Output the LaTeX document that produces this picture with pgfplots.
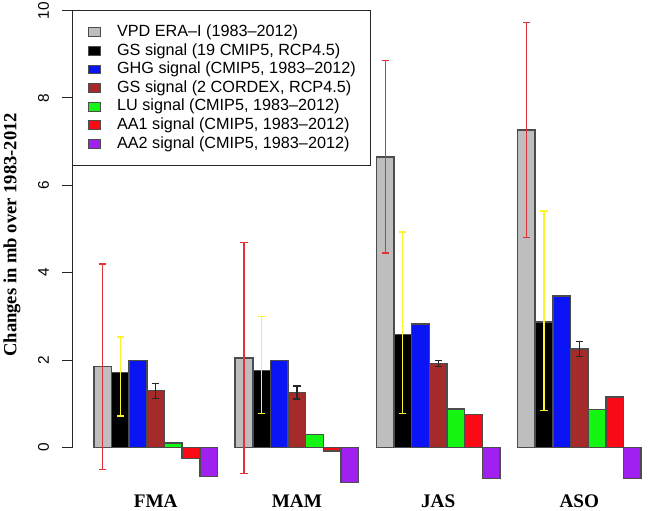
\documentclass[border=0pt]{standalone}
\usepackage{pgfplots}
\pgfplotsset{compat=1.18}
\usepackage{fontspec}
\setmainfont{Liberation Sans}
\newfontfamily\timesfont{Liberation Serif}

\definecolor{cgray}{RGB}{190,190,190}
\definecolor{cblue}{RGB}{10,20,245}
\definecolor{cbrown}{RGB}{165,42,42}
\definecolor{cgreen}{RGB}{20,245,20}
\definecolor{cred}{RGB}{250,10,20}
\definecolor{cpurple}{RGB}{160,32,240}
\definecolor{cerr}{RGB}{225,50,55}
\definecolor{cyel}{RGB}{250,245,40}

\pgfplotsset{
  mybar/.style={ybar, bar width=1, bar shift=0, fill=#1, draw=black!70, line width=0.75pt,
    legend image code/.code={\draw[fill=#1, draw=black!70, line width=0.4pt] (0pt,-2.2pt) rectangle (6.4pt,2.2pt);}},
  myerr/.style={error bars/.cd, y dir=both, y explicit,
    error bar style={color=#1, line width=0.6pt},
    error mark options={rotate=90, color=#1, mark size=1.8pt, line width=0.6pt}},
}

\begin{document}
\begin{tikzpicture}
\begin{axis}[
  scale only axis,
  width=287.96pt, height=255.2pt,
  xmin=-0.24, xmax=32.39,
  ymin=-1.44, ymax=10.24,
  axis lines*=left,
  axis line style={draw=none},
  ytick={0,2,4,6,8,10},
  ytick align=outside,
  major tick length=5pt,
  ytick style={black!85, line width=0.5pt},
  yticklabel style={rotate=90, anchor=south, font=\fontsize{7.7}{9}\selectfont},
  yticklabel shift=3pt,
  /pgf/number format/assume math mode=true,
  xtick={4.5,12.5,20.5,28.5},
  xticklabels={FMA,MAM,JAS,ASO},
  xtick align=inside,
  xtick style={draw=none},
  xticklabel style={anchor=base, inner sep=0pt, font=\timesfont\bfseries\fontsize{9.6}{11}\selectfont},
  xticklabel shift=-1.6pt,
  ylabel={Changes in mb over 1983-2012},
  every axis y label/.style={at={([xshift=-30pt]axis description cs:0,0.54)}, rotate=90, anchor=center,
    font=\timesfont\bfseries\fontsize{9.3}{11}\selectfont},
  legend style={at={(0,0.981)}, anchor=north west, draw=black!85, line width=0.5pt,
    font=\fontsize{8.1}{9}\selectfont, inner xsep=7.5pt, inner ysep=7.3pt,
    row sep=1.9pt, column sep=8pt,
    nodes={inner sep=0pt, text height=5.8pt, text depth=1.6pt}},
  legend cell align=left,
  clip=false,
]
% VPD ERA-I with red range
\addplot[mybar=cgray, myerr=cerr] coordinates {
  (1.5,1.85) += (0,2.35) -= (0,2.35)
  (9.5,2.05) += (0,2.65) -= (0,2.65)
  (17.5,6.65) += (0,2.21) -= (0,2.20)
  (25.5,7.26) += (0,2.46) -= (0,2.45)
};
% GS signal, 19 CMIP5 with yellow range
\addplot[mybar=black, myerr=cyel] coordinates {
  (2.5,1.72) += (0,0.81) -= (0,1.00)
  (10.5,1.76) += (0,1.24) -= (0,0.99)
  (18.5,2.59) += (0,2.34) -= (0,1.82)
  (26.5,2.87) += (0,2.54) -= (0,2.02)
};
\addplot[mybar=cblue] coordinates {(3.5,1.99) (11.5,1.99) (19.5,2.83) (27.5,3.47)};
\addplot[mybar=cbrown, myerr=black!85] coordinates {
  (4.5,1.30) +- (0,0.17)
  (12.5,1.26) +- (0,0.15)
  (20.5,1.92) +- (0,0.065)
  (28.5,2.25) +- (0,0.17)
};
\addplot[mybar=cgreen] coordinates {(5.5,0.105) (13.5,0.30) (21.5,0.88) (29.5,0.87)};
\addplot[mybar=cred] coordinates {(6.5,-0.25) (14.5,-0.085) (22.5,0.76) (30.5,1.16)};
\addplot[mybar=cpurple] coordinates {(7.5,-0.66) (15.5,-0.80) (23.5,-0.71) (31.5,-0.71)};
\legend{VPD ERA--I (1983--2012),GS signal (19 CMIP5{,} RCP4.5),GHG signal (CMIP5{,} 1983--2012),
  GS signal (2 CORDEX{,} RCP4.5),LU signal (CMIP5{,} 1983--2012),AA1 signal (CMIP5{,} 1983--2012),
  AA2 signal (CMIP5{,} 1983--2012)}
\draw[black!85, line width=0.5pt] (axis cs:-0.24,0) -- (axis cs:-0.24,10);
\end{axis}
\pgfresetboundingbox
\useasboundingbox ([xshift=-36pt]current axis.south west) rectangle (current axis.north east);
\end{tikzpicture}
\end{document}
